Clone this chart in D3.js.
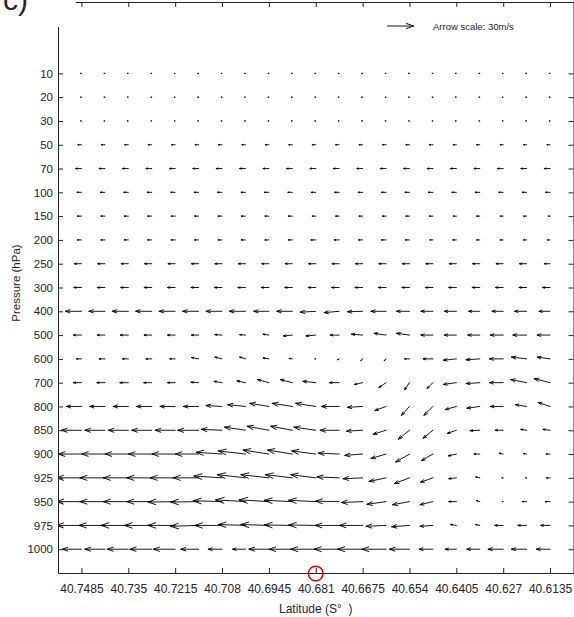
<!DOCTYPE html>
<meta charset="utf-8" />
<style>
  body { margin: 0; background: #fff; }
  text { font-family: "Liberation Sans", Arial, sans-serif; fill: #262626; }
</style>
<svg width="574" height="617"></svg>
<script src="https://d3js.org/d3.v7.min.js"></script>
<script>
    var svg = d3.select("svg");

    // pressure levels (hPa), top to bottom
    var levels = ["10", "20", "30", "50", "70", "100", "150", "200", "250", "300", "400",
                  "500", "600", "700", "800", "850", "900", "925", "950", "975", "1000"];

    // latitude of each column (S)
    var lats = [40.7485, 40.74175, 40.735, 40.72825, 40.7215, 40.71475, 40.708, 40.70125,
                40.6945, 40.68775, 40.681, 40.67425, 40.6675, 40.66075, 40.654, 40.64725,
                40.6405, 40.63375, 40.627, 40.62025, 40.6135];

    var latTicks = [40.7485, 40.735, 40.7215, 40.708, 40.6945, 40.681, 40.6675, 40.654, 40.6405, 40.627, 40.6135];
    var latTickLabels = ["40.7485", "40.735", "40.7215", "40.708", "40.6945", "40.681",
                         "40.6675", "40.654", "40.6405", "40.627", "40.6135"];

    // horizontal wind component (m/s), one row per level
    var u = [
      [-1,-1,-1,-1,-1,-1,-1,-1,-1,-1,-1,-1,-1,-1,-1,-1,-1,-1,-1,-1,-1],
      [-1,-1,-1,-1,-1,-1,-1,-1,-1,-1,-1,-1,-1,-1,-1,-1,-1,-1,-1,-1,-1],
      [-1,-1,-1,-1,-1,-1,-1,-1,-1,-1,-1,-1,-1,-1,-1,-1,-1,-1,-1,-1,-1],
      [-4,-4,-4,-4,-4,-4,-4,-4,-4,-4,-4,-4,-4,-4,-4,-4,-3.5,-3.5,-3.5,-3.5,-3.5],
      [-6.5,-6.5,-6.5,-6.5,-6.5,-6.5,-6.5,-6.5,-6.5,-6.5,-6.5,-6.5,-6.5,-6.5,-6.5,-6.5,-6.5,-6.5,-6.5,-6.5,-6.5],
      [-5,-5,-5,-5,-5,-5,-5,-5,-5,-5,-5,-5,-5,-5,-5,-5,-5,-5,-5,-5,-5],
      [-4.5,-4.5,-4.5,-4.5,-4.5,-4.5,-4.5,-4.5,-4.5,-4.5,-4,-4,-4,-4,-4,-4,-3.5,-3.5,-3.5,-3.5,-2],
      [-4.5,-4.5,-4.5,-4.5,-4.5,-4.5,-4.5,-4.5,-4.5,-4.5,-5.5,-5.5,-4.5,-5,-4.5,-3.5,-4,-3.5,-3.5,-3.5,-3],
      [-8,-8,-8,-8,-8,-8,-8,-8,-8,-8,-8,-8,-8,-8,-8,-8,-8,-8,-8,-8,-6.5],
      [-8.5,-8.5,-8.5,-8.5,-8.5,-8.5,-8.5,-8.5,-8.5,-8.5,-8.5,-8.5,-8.5,-8.5,-8.5,-8.5,-8.5,-8.5,-8.5,-8.5,-8.5],
      [-18,-18,-18,-18,-18,-18,-18,-18,-17,-17.5,-17.5,-17,-17,-17,-14.5,-13.5,-13.5,-12.5,-12.5,-13.5,-12.5],
      [-9,-8.5,-9,-8.5,-8.5,-8,-8,-6.5,-6.5,-10,-11,-10,-12.5,-13.5,-14.5,-13.5,-13.5,-13.5,-14.5,-15.5,-14.5],
      [-5.5,-6.5,-6.5,-6.5,-6,-8,-8,-6.5,-6.5,-3.5,-1,-2,-2,-2,-5.5,-11,-14.5,-15.5,-15.5,-17,-14.5],
      [-9,-9,-9.5,-9,-8.5,-8.5,-9,-9.5,-13,-13.5,-14.5,-11,-9,-8,-5.5,-6.5,-14.5,-15.5,-15.5,-18,-18],
      [-17,-17,-17,-17,-17,-17,-18,-20,-21.5,-22.5,-22.5,-20,-17,-12.5,-9,-10,-12.5,-14.5,-14.5,-12.5,-13.5],
      [-22.5,-22.5,-22.5,-22.5,-22.5,-23.5,-23.5,-23.5,-24.5,-24.5,-24.5,-21.5,-18,-14.5,-12.5,-11,-10,-11,-9,-6.5,-8],
      [-26,-26,-26,-26,-26,-26,-29,-30.5,-29,-28,-27,-23.5,-20,-17,-15.5,-13,-9,-6.5,-4.5,-3.5,-4.5],
      [-28,-28,-28,-28,-28,-28.5,-31.5,-31.5,-31.5,-30,-28,-25,-22,-19,-17,-14,-8.5,-4.5,-1.5,-1,-4],
      [-28,-28,-28,-28,-30.5,-31.5,-32.5,-33.5,-33.5,-31.5,-30.5,-26.5,-24,-21.5,-19,-14.5,-8.5,-3.5,-1,-5,-5.5],
      [-28,-29,-30.5,-30.5,-30.5,-31.5,-30.5,-30.5,-31.5,-31.5,-30.5,-27,-26,-22.5,-20,-14.5,-6.5,-4.5,-9.5,-10,-10.5],
      [-21.5,-22.5,-23.5,-24.5,-24.5,-20,-15.5,-14.5,-22.5,-26,-28,-28,-28,-27,-22.5,-15.5,-12.5,-14.5,-17,-17,-15.5]
    ];

    // vertical component (scaled, positive up), one row per level
    var w = [
      [0,0,0,0,0,0,0,0,0,0,0,0,0,0,0,0,0,0,0,0,0],
      [0,0,0,0,0,0,0,0,0,0,0,0,0,0,0,0,0,0,0,0,0],
      [0,0,0,0,0,0,0,0,0,0,0,0,0,0,0,0,0,0,0,0,0],
      [0,0,0,0,0,0,0,0,0,0,0,0,0,0,0,0,0,0,0,0,0],
      [0,0,0,0,0,0,0,0,0,0,0,0,0,0,0,0,0,0,0,0,0],
      [0,0,0,0,0,0,0,0,0,0,0,0,0,0,0,0,0,0,0,0,0],
      [0,0,0,0,0,0,0,0,0,0,0,0,0,0,0,0,0,0,0,0,0],
      [0,0,0,0,0,0,0,0,0,0,0,0,0,0,0,0,0,0,0,0,0],
      [0,0,0,0,0,0,0,0,0,0,0,0,0,0,0,0,0,0,0,0,0],
      [0,0,0,0,0,0,0,0,0,0,0,0,0,0,0,0,0,0,0,0,0],
      [0,0,0,0,0,0,0,0,0,0,-1,-1.5,-0.5,0,0,0,0,0,0,0,0],
      [0,0,0,0,0,0,0.5,0.5,1,-1,-1,0,1,2,2,0,0,0,0,0,0],
      [0,0,0,0,0,1.5,2,2,1,0.5,0,-1,-2,-2,0,0,-1.5,-1,0,2,2],
      [0,0,0,0,0,0.5,1.5,2,3.5,3.5,1.5,0,-2,-5.5,-8,-6.5,-2,-1,0,3.5,4.5],
      [0,0,0,0,0,0,1,2,3.5,3.5,3.5,0,-1,-4.5,-10,-10,-3.5,-2,0,2,4.5],
      [0,0,0,0,0,0,1,3.5,4.5,4.5,3.5,0,-1,-4.5,-10,-9,-3.5,-0.5,0,1,1],
      [0,0,0,0,0,0,2,3.5,4.5,4.5,3.5,1,-1.5,-5,-9,-7.5,-2,0,1,0.5,0],
      [0,0,0,0,0,0,2,3.5,3.5,3.5,3.5,1,-1,-4,-6.5,-5,-1,1,0,0,0],
      [0,0,0,0,-0.5,-0.5,1,2,2,1.5,1.5,0.5,-1,-3,-3.5,-3.5,0,1,0,0,0],
      [0,0,0,0,0,-1,0,1,1,0.5,0.5,0,0,-1,-1.5,-1,1,1,0,0,0],
      [0,0,0,0,0,0,0,0,0,0,0,0,0,0,0,0,0,0,0,0,0]
    ];

    var refSpeed = 30; // m/s, legend arrow

    var plotL = 58, plotR = 573.5, plotT = 2, plotB = 573;

    var x = d3.scaleLinear().domain([40.75525, 40.60675]).range([plotL, plotR]);
    // level index scale, with empty space above 10 hPa
    var y = d3.scaleLinear().domain([-3, 21]).range([plotT, plotB]);
    // px per m/s
    var k = d3.scaleLinear().domain([0, refSpeed]).range([0, 26.7]);

    function arrowPath(x0, y0, dx, dy) {
        var a = 0.28, b = 0.35;
        var x1 = x0 + dx, y1 = y0 + dy;
        var ax = x1 - a * (dx + b * dy), ay = y1 - a * (dy - b * dx);
        var bx = x1 - a * (dx - b * dy), by = y1 - a * (dy + b * dx);
        return "M" + x0 + "," + y0 + "L" + x1 + "," + y1 +
               "M" + ax + "," + ay + "L" + x1 + "," + y1 + "L" + bx + "," + by;
    }

    svg.append("defs").append("clipPath").attr("id", "plot")
        .append("rect").attr("x", plotL).attr("y", plotT)
        .attr("width", plotR - plotL).attr("height", plotB - plotT);

    var cells = [];
    levels.forEach(function(lev, i) {
        lats.forEach(function(lat, j) {
            cells.push({ i: i, lat: lat, u: u[i][j], w: w[i][j] });
        });
    });

    svg.append("g")
        .attr("clip-path", "url(#plot)")
        .selectAll("path")
        .data(cells)
        .enter()
        .append("path")
        .attr("d", function(d) {
            return arrowPath(x(d.lat), y(d.i), k(d.u), -k(d.w));
        })
        .attr("fill", "none")
        .attr("stroke", "#000")
        .attr("stroke-width", 0.9)
        .attr("stroke-linecap", "round");

    // axes (ticks point inward, like matlab)
    var xAxis = d3.axisBottom(x).tickValues(latTicks)
        .tickFormat(function(d, i) { return latTickLabels[i]; })
        .tickSizeInner(-5).tickSizeOuter(0).tickPadding(11);
    var xTop = d3.axisTop(x).tickValues(latTicks).tickFormat("")
        .tickSizeInner(-5).tickSizeOuter(0);
    var levelIdx = d3.range(levels.length);
    var yAxis = d3.axisLeft(y).tickValues(levelIdx)
        .tickFormat(function(d) { return levels[d]; })
        .tickSizeInner(-5).tickSizeOuter(0).tickPadding(5);
    var yRight = d3.axisRight(y).tickValues(levelIdx).tickFormat("")
        .tickSizeInner(-5).tickSizeOuter(0);

    function styleAxis(size) {
        return function(g) {
            g.selectAll("path, line").attr("stroke", "#262626").attr("stroke-width", 1);
            g.selectAll("text").attr("font-size", size).attr("fill", "#262626")
                .attr("font-family", "'Liberation Sans', Arial, sans-serif");
        };
    }

    svg.append("g").attr("transform", "translate(0," + plotB + ")").call(xAxis).call(styleAxis("12px"));
    svg.append("g").attr("transform", "translate(0," + plotT + ")").call(xTop).call(styleAxis("12px"));
    svg.append("g").attr("transform", "translate(" + plotL + ",0)").call(yAxis).call(styleAxis("11.5px"));
    svg.append("g").attr("transform", "translate(" + plotR + ",0)").call(yRight).call(styleAxis("11.5px"));

    // axis titles
    svg.append("text")
        .attr("x", (plotL + plotR) / 2).attr("y", 613)
        .attr("text-anchor", "middle")
        .attr("font-size", "12px")
        .attr("xml:space", "preserve")
        .style("white-space", "pre")
        .text("Latitude (S°  )");

    svg.append("text")
        .attr("transform", "translate(20,283) rotate(-90)")
        .attr("text-anchor", "middle")
        .attr("font-size", "11.5px")
        .text("Pressure (hPa)");

    // reference arrow
    svg.append("path")
        .attr("d", arrowPath(387, 26, k(refSpeed), 0))
        .attr("fill", "none").attr("stroke", "#000").attr("stroke-width", 0.9);
    svg.append("text")
        .attr("x", 433).attr("y", 29.5)
        .attr("font-size", "9.5px")
        .text("Arrow scale: " + refSpeed + "m/s");

    // highlighted site on the latitude axis
    svg.append("circle")
        .attr("cx", x(40.681)).attr("cy", 573.5).attr("r", 7.3)
        .attr("fill", "none").attr("stroke", "#e00000").attr("stroke-width", 1.5);

    // panel label with white box
    svg.append("rect").attr("x", 0).attr("y", 0).attr("width", 76).attr("height", 27).attr("fill", "#fff");
    svg.append("text")
        .attr("x", 3).attr("y", 10)
        .attr("font-size", "30px")
        .attr("fill", "#111")
        .text("c)");
</script>
